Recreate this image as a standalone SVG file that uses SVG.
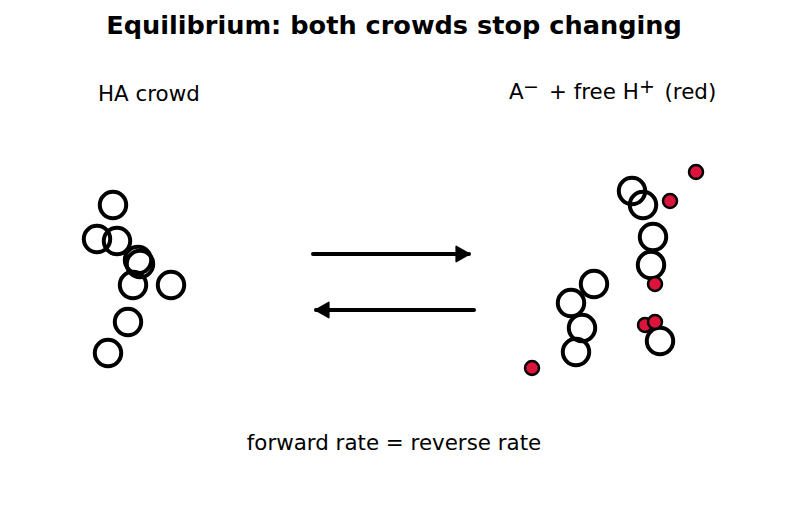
<svg xmlns="http://www.w3.org/2000/svg" width="787" height="512" viewBox="0 0 787 512">
<style>
text{font-family:"DejaVu Sans",sans-serif;fill:#000}
.t{font-size:25.6px;font-weight:bold;text-anchor:middle}
.l{font-size:21.4px}
.s{font-size:19px}
.c{fill:none;stroke:#000;stroke-width:4}
.r{fill:#dc143c;stroke:#000;stroke-width:2.5}
.a{stroke:#000;stroke-width:4;stroke-linecap:round;fill:none}
</style>
<defs>
<marker id="ah" markerWidth="5" markerHeight="5" refX="3.5" refY="2.5" orient="auto" markerUnits="strokeWidth">
<path d="M0.3,0.6 L3.6,2.5 L0.3,4.4 Z" fill="#000" stroke="#000" stroke-width="0.4" stroke-linejoin="round"/>
</marker>
</defs>
<rect width="787" height="512" fill="#fff"/>
<text class="t" x="394" y="34">Equilibrium: both crowds stop changing</text>
<g id="label-ha"><text class="l" x="98" y="101">HA crowd</text></g>
<g id="label-a"><text class="l" y="99"><tspan x="509">A</tspan><tspan class="s" x="523" y="93">−</tspan><tspan x="549" y="99">+ free H</tspan><tspan class="s" x="639" y="93">+</tspan><tspan x="664.5" y="99">(red)</tspan></text></g>
<g id="ha-crowd">
<circle class="c" cx="113" cy="205" r="13.2"/>
<circle class="c" cx="97" cy="239" r="13.2"/>
<circle class="c" cx="117" cy="241" r="13.2"/>
<circle class="c" cx="138" cy="260" r="13.2"/>
<circle class="c" cx="140" cy="264" r="13.2"/>
<circle class="c" cx="133" cy="285" r="13.2"/>
<circle class="c" cx="171" cy="285" r="13.2"/>
<circle class="c" cx="128" cy="322" r="13.2"/>
<circle class="c" cx="108" cy="353" r="13.2"/>
</g>
<g id="a-crowd">
<circle class="c" cx="632" cy="191" r="13.2"/>
<circle class="c" cx="643" cy="205" r="13.2"/>
<circle class="c" cx="653" cy="237" r="13.2"/>
<circle class="c" cx="651" cy="265" r="13.2"/>
<circle class="c" cx="594" cy="284" r="13.2"/>
<circle class="c" cx="571" cy="303" r="13.2"/>
<circle class="c" cx="582" cy="328" r="13.2"/>
<circle class="c" cx="576" cy="352" r="13.2"/>
<circle class="c" cx="660" cy="341" r="13.2"/>
</g>
<g id="h-ions">
<circle class="r" cx="696" cy="172" r="7"/>
<circle class="r" cx="670" cy="201" r="7"/>
<circle class="r" cx="655" cy="284" r="7"/>
<circle class="r" cx="645" cy="325" r="7"/>
<circle class="r" cx="655" cy="322" r="7"/>
<circle class="r" cx="532" cy="368" r="7"/>
</g>
<g id="connectors">
<line class="a" x1="313" y1="254" x2="469" y2="254" marker-end="url(#ah)"/>
<line class="a" x1="474" y1="310" x2="316" y2="310" marker-end="url(#ah)"/>
</g>
<g id="caption"><text class="l" x="394" y="450" text-anchor="middle">forward rate = reverse rate</text></g>
</svg>
